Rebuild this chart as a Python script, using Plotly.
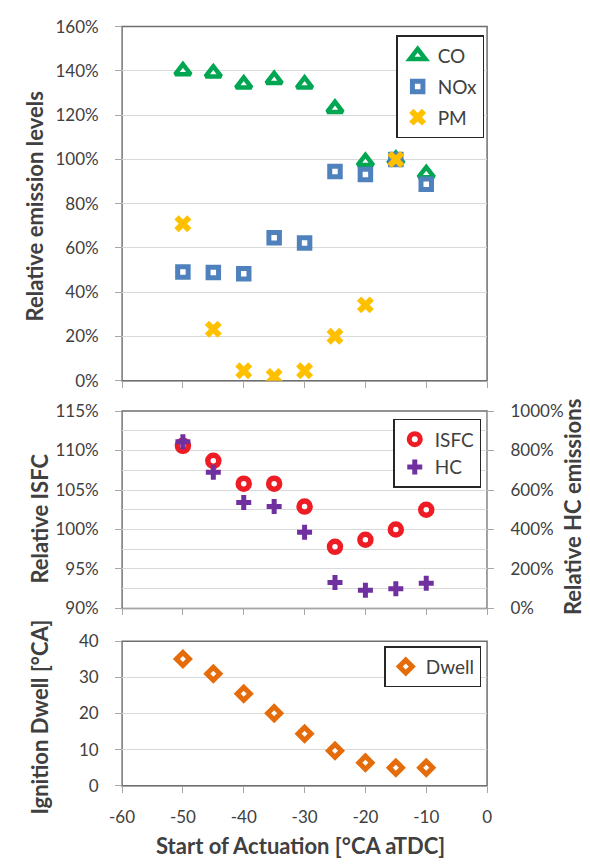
import plotly.graph_objects as go

# ---- data ----
soa = [-50, -45, -40, -35, -30, -25, -20, -15, -10]
co = [140, 139, 134, 136, 134, 123, 99, 100, 93.5]
nox = [49.2, 48.9, 48.4, 64.6, 62.2, 94.6, 93.2, 100, 88.8]
pm = [70.9, 23.3, 4.5, 2.0, 4.5, 20.1, 34.3, 100, None]
isfc = [110.6, 108.7, 105.8, 105.8, 102.9, 97.8, 98.7, 100.0, 102.5]
hc = [845, 690, 537, 516, 386, 131, 92, 100, 128]
dwell = [35.1, 31.0, 25.5, 20.1, 14.4, 9.7, 6.4, 5.0, 5.0]

x_ticks = [-60, -50, -40, -30, -20, -10, 0]
x_ticktext = [str(v) for v in x_ticks]

FONT = "Lato"
TXT = "#404040"
GRID = "#D9D9D9"
AXIS = "#A6A6A6"
H = 866.0
W = 590.0

def ydom(top, bottom):
    return [1 - bottom / H, 1 - top / H]

xdom = [112.5 / W, 489 / W]

fig = go.Figure()

fig.add_trace(go.Scatter(x=soa, y=co, mode="markers", name="CO", xaxis="x", yaxis="y",
                         legend="legend", legendgroup="a",
                         marker=dict(symbol="triangle-up", size=13.5, color="white",
                                     line=dict(color="#00A651", width=4.5))))
fig.add_trace(go.Scatter(x=soa, y=nox, mode="markers", name="NOx", xaxis="x", yaxis="y",
                         legend="legend", legendgroup="b",
                         marker=dict(symbol="square", size=10.5, color="white",
                                     line=dict(color="#4F81BD", width=5))))
fig.add_trace(go.Scatter(x=soa, y=pm, mode="markers", name="PM", xaxis="x", yaxis="y",
                         legend="legend", legendgroup="c",
                         marker=dict(symbol="x", size=15, color="#FFC000",
                                     line=dict(width=0))))

fig.add_trace(go.Scatter(x=soa, y=isfc, mode="markers", name="ISFC", xaxis="x2", yaxis="y2",
                         legend="legend2", legendgroup="d",
                         marker=dict(symbol="circle", size=11, color="white",
                                     line=dict(color="#EE1C25", width=5.5))))
fig.add_trace(go.Scatter(x=soa, y=hc, mode="markers", name="HC", xaxis="x2", yaxis="y4",
                         legend="legend2", legendgroup="e",
                         marker=dict(symbol="cross", size=12.5, color="#7030A0",
                                     line=dict(width=0))))

fig.add_trace(go.Scatter(x=soa, y=dwell, mode="markers", name="Dwell", xaxis="x3", yaxis="y3",
                         legend="legend3",
                         marker=dict(symbol="diamond", size=10, color="white",
                                     line=dict(color="#E46C0A", width=5))))

tickfont = dict(family=FONT, size=17, color=TXT)

def xaxis(anchor, labels):
    return dict(domain=xdom, anchor=anchor, range=[-60, 0], tickvals=x_ticks,
                ticktext=x_ticktext,
                showticklabels=labels, ticks="outside", ticklen=6, tickcolor=AXIS,
                showgrid=False, zeroline=False, showline=True, linecolor=AXIS,
                linewidth=1, mirror=False, tickfont=tickfont, ticklabelstandoff=10)

def yaxis(anchor, dom, rng, dtick, suffix):
    return dict(domain=dom, anchor=anchor, range=rng, dtick=dtick, tick0=rng[0],
                ticksuffix=suffix, ticks="outside", ticklen=6, tickcolor=AXIS,
                showgrid=True, gridcolor=GRID, gridwidth=1.3, zeroline=False,
                showline=True, linecolor=AXIS, linewidth=1, tickfont=tickfont,
                ticklabelstandoff=13)

d1 = ydom(16, 379)
d2 = ydom(410, 612.3)
d3 = ydom(646, 794)

fig.update_layout(
    width=590, height=866,
    margin=dict(l=0, r=0, t=0, b=0),
    paper_bgcolor="white", plot_bgcolor="white",
    font=dict(family=FONT, color=TXT),
    xaxis=xaxis("y", False),
    xaxis2=xaxis("y2", False),
    xaxis3=xaxis("y3", True),
    yaxis=yaxis("x", d1, [0, 160], 20, "%"),
    yaxis2=dict(yaxis("x2", d2, [90, 115], 5, "%"),
                minor=dict(dtick=2.5, showgrid=True, gridcolor=GRID, gridwidth=1.3, ticks="")),
    yaxis3=yaxis("x3", d3, [0, 40], 10, ""),
    yaxis4=dict(overlaying="y2", anchor="x2", side="right", range=[0, 1000], dtick=200,
                ticksuffix="%", ticks="outside", ticklen=6, tickcolor=AXIS, showgrid=False,
                zeroline=False, showline=True, linecolor=AXIS, tickfont=tickfont,
                ticklabelstandoff=13),
    showlegend=True,
)

legfont = dict(family=FONT, size=19, color=TXT)
common_leg = dict(xanchor="right", yanchor="top", bgcolor="white", bordercolor="#262626",
                  borderwidth=1.5, font=legfont, traceorder="grouped", itemsizing="trace")
fig.update_layout(
    legend=dict(common_leg, x=486 / W, y=1 - 25 / H, tracegroupgap=3),
    legend2=dict(common_leg, x=483 / W, y=1 - 418 / H, tracegroupgap=0),
    legend3=dict(common_leg, x=483 / W, y=1 - 651 / H),
)

# plot-area frames (top/right borders darker)
for xr, yr in [("x domain", "y domain"), ("x2 domain", "y2 domain"), ("x3 domain", "y3 domain")]:
    fig.add_shape(type="rect", xref=xr, yref=yr, x0=0, x1=1, y0=0, y1=1,
                  line=dict(color="#6E6E6E", width=1.5), layer="below")

title_font = dict(family=FONT, size=22, color=TXT, weight="bold")
annos = [
    dict(text="Relative emission levels", x=22 / W, y=1 - 200 / H, textangle=-90),
    dict(text="Relative ISFC", x=27 / W, y=1 - 520 / H, textangle=-90),
    dict(text="Ignition Dwell [°CA]", x=27 / W, y=1 - 724 / H, textangle=-90),
    dict(text="Relative HC emissions", x=577 / W, y=1 - 508 / H, textangle=-90),
    dict(text="Start of Actuation [°CA aTDC]", x=297 / W, y=1 - 855 / H, textangle=0),
]
for a in annos:
    fig.add_annotation(xref="paper", yref="paper", showarrow=False, xanchor="center",
                       yanchor="middle", font=title_font, **a)

fig.write_html("out.html", config={"displayModeBar": False},
               post_script="document.body.style.margin='0';document.body.style.overflow='hidden';")
